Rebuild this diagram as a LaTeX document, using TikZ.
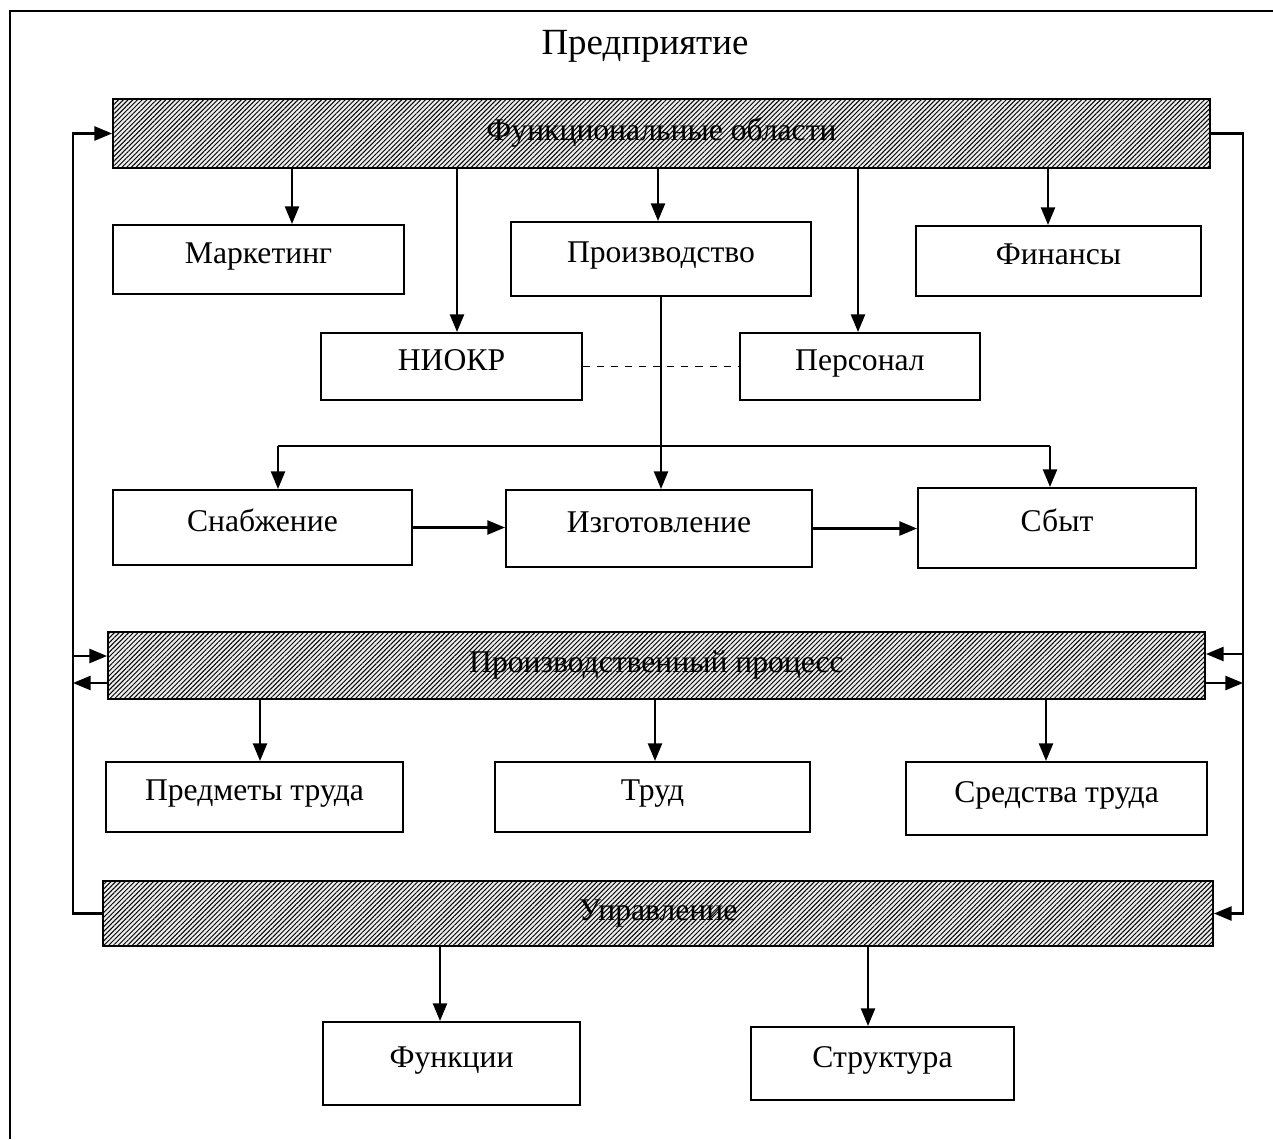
\documentclass[tikz,border=0pt]{standalone}
\usepackage{fontspec}
\setmainfont{Liberation Serif}
\usetikzlibrary{arrows.meta,patterns.meta}
\tikzset{
  box/.style={draw, line width=1.2pt, inner sep=0pt, text height=12pt, text depth=7.5pt},
  bar/.style={draw, line width=1.2pt, inner sep=0pt, text height=12pt, text depth=4pt,
    fill=gray!15, postaction={pattern={Lines[angle=45, distance=1.9pt, line width=0.55pt]}}},
  arr/.style={line width=1.2pt, -{Triangle[length=10pt,width=8pt]}},
  link/.style={line width=1.2pt},
}
\begin{document}
\begin{tikzpicture}[x=0.02cm, y=-0.02cm, every node/.style={font=\fontsize{18}{20}\selectfont}]
  \useasboundingbox (0,0) rectangle (1273,1139);
  \draw[link] (10,1139) -- (10,11) -- (1273,11);
  \node[font=\fontsize{21}{24}\selectfont] (title) at (645,46) {Предприятие};

  \node[bar, minimum width=21.94cm, minimum height=1.38cm] (fa) at (661.5,133.5) {Функциональные области};
  \node[box, minimum width=5.82cm, minimum height=1.38cm] (mark) at (258.5,259.5) {Маркетинг};
  \node[box, minimum width=6.00cm, minimum height=1.48cm] (proizv) at (661,259) {Производство};
  \node[box, minimum width=5.70cm, minimum height=1.40cm] (fin) at (1058.5,261) {Финансы};
  \node[box, minimum width=5.22cm, minimum height=1.34cm] (niokr) at (451.5,366.5) {НИОКР};
  \node[box, minimum width=4.80cm, minimum height=1.34cm] (pers) at (860,366.5) {Персонал};
  \node[box, minimum width=5.98cm, minimum height=1.50cm] (snab) at (262.5,527.5) {Снабжение};
  \node[box, minimum width=6.12cm, minimum height=1.54cm] (izg) at (659,528.5) {Изготовление};
  \node[box, minimum width=5.56cm, minimum height=1.60cm] (sbyt) at (1057,528) {Сбыт};

  \node[bar, minimum width=21.94cm, minimum height=1.34cm] (pp) at (656.5,665.5) {Производственный процесс};
  \node[box, minimum width=5.94cm, minimum height=1.40cm] (predm) at (254.5,797) {Предметы труда};
  \node[box, minimum width=6.30cm, minimum height=1.40cm] (trud) at (652.5,797) {Труд};
  \node[box, minimum width=6.02cm, minimum height=1.46cm] (sredst) at (1056.5,798.5) {Средства труда};

  \node[bar, minimum width=22.20cm, minimum height=1.30cm] (upr) at (658,913.5) {Управление};
  \node[box, minimum width=5.14cm, minimum height=1.66cm] (funk) at (451.5,1063.5) {Функции};
  \node[box, minimum width=5.26cm, minimum height=1.46cm] (strukt) at (882.5,1063.5) {Структура};

  \foreach \xx/\dst in {292/mark, 457/niokr, 658/proizv, 858/pers, 1048/fin}{
    \coordinate (dp) at (\xx,0);
    \draw[arr] (fa.south -| dp) -- (\dst.north -| dp);
  }
  \foreach \xx/\dst in {260/predm, 655/trud, 1046/sredst}{
    \coordinate (dp) at (\xx,0);
    \draw[arr] (pp.south -| dp) -- (\dst.north -| dp);
  }
  \foreach \xx/\dst in {440/funk, 868/strukt}{
    \coordinate (dp) at (\xx,0);
    \draw[arr] (upr.south -| dp) -- (\dst.north -| dp);
  }

  \draw[thin, dash pattern=on 4pt off 4pt] (niokr) -- (pers);

  \coordinate (sx) at (278,446);
  \coordinate (bx) at (1050,446);
  \draw[arr] (proizv.south) -- (proizv.south |- izg.north);
  \draw[link] (sx) -- (bx);
  \draw[arr] (sx) -- (snab.north -| sx);
  \draw[arr] (bx) -- (sbyt.north -| bx);
  \draw[arr] (snab.east) -- (snab.east -| izg.west);
  \draw[arr] (izg.east) -- (izg.east -| sbyt.west);

  \coordinate (lx) at (73,0);
  \coordinate (rx) at (1243,0);
  \coordinate (ppa) at ([yshift=0.19cm]pp.west);
  \coordinate (ppb) at ([yshift=-0.35cm]pp.west);
  \coordinate (ppc) at ([yshift=0.23cm]pp.east);
  \coordinate (ppd) at ([yshift=-0.35cm]pp.east);
  \draw[arr] (upr.west) -- (upr.west -| lx) -- (fa.west -| lx) -- (fa.west);
  \draw[arr] (ppa -| lx) -- (ppa);
  \draw[arr] (ppb) -- (ppb -| lx);
  \draw[arr] (fa.east) -- (fa.east -| rx) -- (upr.east -| rx) -- (upr.east);
  \draw[arr] (ppc -| rx) -- (ppc);
  \draw[arr] (ppd) -- (ppd -| rx);
\end{tikzpicture}
\end{document}
